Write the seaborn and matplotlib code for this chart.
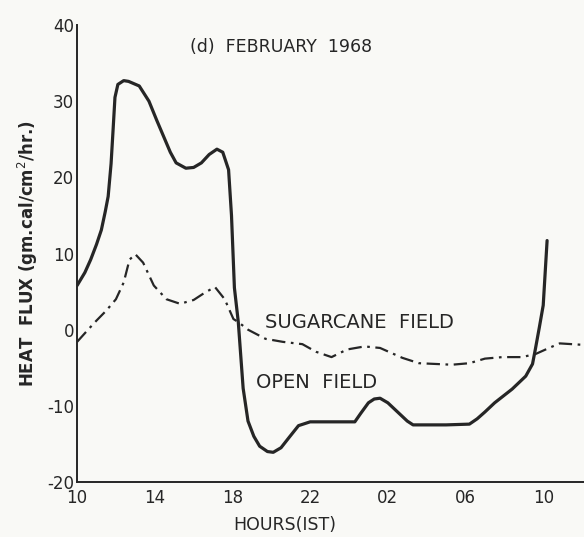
import pandas as pd
import matplotlib
matplotlib.use('Agg')
import matplotlib.pyplot as plt
import seaborn as sns

# open field heat flux (solid curve)
open_hours = [10, 10.4, 10.7, 11.0, 11.25, 11.45, 11.6, 11.75, 11.85, 11.95, 12.1,
              12.4, 12.65, 13.2, 13.7, 14.1, 14.4, 14.8, 15.1, 15.6, 16.0, 16.4,
              16.8, 17.2, 17.5, 17.8, 17.95, 18.1, 18.3, 18.55, 18.8, 19.1, 19.4,
              19.8, 20.1, 20.5, 20.9, 21.4, 22, 23, 24.3, 24.6, 25.0, 25.3, 25.6,
              26.0, 26.5, 27.0, 27.3, 28, 29, 30.2, 30.6, 31.0, 31.5, 31.9, 32.4,
              33.1, 33.45, 33.6, 33.8, 34.0, 34.2]
open_flux = [5.8, 7.5, 9.2, 11.2, 13.1, 15.5, 17.5, 21.8, 26.1, 30.5, 32.2,
             32.7, 32.6, 32.0, 30.0, 27.5, 25.7, 23.3, 21.9, 21.2, 21.3, 21.9,
             23.0, 23.7, 23.3, 21.0, 15.0, 5.5, 1.0, -7.7, -12.0, -14.0, -15.3,
             -16.0, -16.1, -15.5, -14.2, -12.6, -12.1, -12.1, -12.1, -11.0, -9.6,
             -9.1, -9.0, -9.6, -10.8, -12.0, -12.5, -12.5, -12.5, -12.4, -11.7,
             -10.8, -9.6, -8.8, -7.8, -6.1, -4.5, -2.5, 0.3, 3.2, 11.7]

# sugarcane field heat flux (dash-dot curve)
cane_hours = [10, 10.6, 11.0, 11.5, 12.0, 12.4, 12.7, 13.0, 13.4, 13.95, 14.6,
              15.3, 16.0, 16.6, 17.1, 17.6, 18.05, 18.3, 18.8, 19.7, 20.6, 21.6,
              22.3, 23.1, 23.9, 24.8, 25.6, 26.75, 27.6, 29.3, 30.2, 31.0, 31.9,
              32.9, 33.6, 34.3, 34.85, 36.1]
cane_flux = [-1.6, 0.1, 1.2, 2.5, 4.0, 6.2, 9.2, 9.9, 8.8, 5.8, 4.0, 3.4, 3.9,
             4.9, 5.6, 4.0, 1.4, 1.0, 0.0, -1.2, -1.6, -1.9, -2.9, -3.6, -2.6,
             -2.2, -2.4, -3.7, -4.4, -4.6, -4.4, -3.8, -3.6, -3.6, -3.2, -2.4,
             -1.8, -2.0]

tick_pos = [10, 14, 18, 22, 26, 30, 34]
tick_labels = ['10', '14', '18', '22', '02', '06', '10']

df = pd.concat([
    pd.DataFrame({'hour': open_hours, 'flux': open_flux, 'field': 'OPEN FIELD'}),
    pd.DataFrame({'hour': cane_hours, 'flux': cane_flux, 'field': 'SUGARCANE FIELD'}),
])

sns.set_style('white')
plt.rcParams['font.family'] = ['DejaVu Sans']
plt.rcParams['axes.unicode_minus'] = False
ink = '#262626'
paper = '#f9f9f6'

fig = plt.figure(figsize=(5.84, 5.37), dpi=100, facecolor=paper)
ax = fig.add_axes([0.132, 0.1024, 0.868, 0.851])
ax.set_facecolor(paper)

sns.lineplot(data=df, x='hour', y='flux', style='field', color=ink,
             dashes={'OPEN FIELD': '', 'SUGARCANE FIELD': (6, 2.5, 1.2, 2.5)},
             sort=False, legend=False, ax=ax)
ax.lines[0].set_linewidth(2.3)
ax.lines[1].set_linewidth(1.6)

ax.set_xlim(10, 36.1)
ax.set_ylim(-20, 40)
ax.set_xticks(range(10, 37, 2))
ax.set_xticklabels([tick_labels[tick_pos.index(h)] if h in tick_pos else ''
                    for h in range(10, 37, 2)])
ax.set_yticks([-20, -10, 0, 10, 20, 30, 40])
ax.tick_params(direction='in', length=7, width=1.2, colors=ink, labelsize=12,
               pad=2)
ax.tick_params(axis='x', pad=5)
for s in ['top', 'right']:
    ax.spines[s].set_visible(False)
for s in ['left', 'bottom']:
    ax.spines[s].set_color(ink)
    ax.spines[s].set_linewidth(1.4)

ax.set_xlabel('HOURS(IST)', fontsize=12.5, color=ink)
ax.xaxis.set_label_coords(0.41, -0.075)
ax.set_ylabel('HEAT  FLUX (gm.cal/cm$^2$/hr.)', fontsize=12, color=ink,
              fontweight='bold')
ax.yaxis.set_label_coords(-0.073, 0.5)

ax.text(15.8, 36.4, '(d)  FEBRUARY  1968', fontsize=12.5, color=ink)
ax.text(19.7, 0.2, 'SUGARCANE  FIELD', fontsize=14, color=ink)
ax.text(19.2, -7.6, 'OPEN  FIELD', fontsize=14, color=ink)

fig.savefig('out.png', dpi=100, facecolor=fig.get_facecolor())
